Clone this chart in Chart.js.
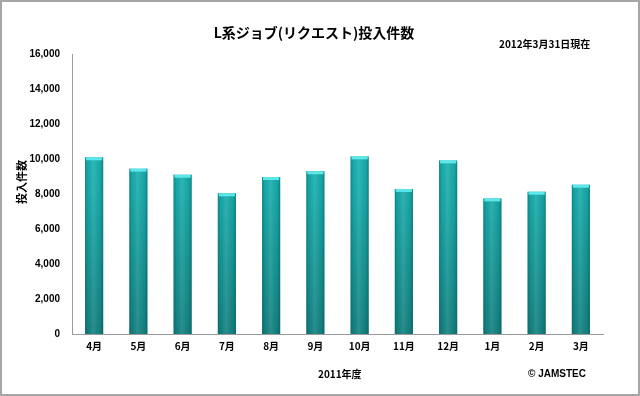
<!DOCTYPE html>
<html>
<head>
<meta charset="utf-8">
<script src="https://cdn.jsdelivr.net/npm/chart.js@4"></script>
<style>
  html, body { margin: 0; padding: 0; background: #fff; }
  #wrap { position: relative; width: 640px; height: 396px; box-sizing: border-box; border: 2px solid #a6a6a6; }
  canvas { display: block; }
</style>
</head>
<body>
<div id="wrap"><canvas id="jobChart" width="636" height="392"></canvas></div>
<script>
const months = ["4月", "5月", "6月", "7月", "8月", "9月", "10月", "11月", "12月", "1月", "2月", "3月"];
const jobCounts = [10100, 9450, 9100, 8040, 8970, 9300, 10150, 8290, 9920, 7750, 8130, 8530];
const titleText = "L系ジョブ(リクエスト)投入件数";
const dateText = "2012年3月31日現在";
const yTitle = "投入件数";
const xTitle = "2011年度";
const creditText = "© JAMSTEC";

const JP = "'Noto Sans CJK JP', 'Noto Sans', sans-serif";
const NUM = "'Liberation Sans', Arial, sans-serif";

// extra texts and bar shading
const decorate = {
    id: "decorate",
    afterDatasetsDraw(chart) {
        const ctx = chart.ctx;
        const meta = chart.getDatasetMeta(0);
        meta.data.forEach((bar) => {
            const left = bar.x - bar.width / 2;
            const right = bar.x + bar.width / 2;
            const g = ctx.createLinearGradient(left, 0, right, 0);
            g.addColorStop(0, "rgba(0,60,60,0.35)");
            g.addColorStop(0.15, "rgba(0,60,60,0.05)");
            g.addColorStop(0.45, "rgba(255,255,255,0.10)");
            g.addColorStop(0.85, "rgba(0,60,60,0.08)");
            g.addColorStop(1, "rgba(0,60,60,0.40)");
            ctx.save();
            ctx.fillStyle = g;
            ctx.fillRect(left, bar.y, bar.width, bar.base - bar.y);
            ctx.fillStyle = "#5ce8ea";
            ctx.fillRect(left + 1, bar.y, bar.width - 2, 3);
            ctx.restore();
        });
    },
    afterDraw(chart) {
        const ctx = chart.ctx;
        ctx.save();
        ctx.fillStyle = "#000";
        ctx.textBaseline = "middle";
        ctx.textAlign = "center";
        ctx.font = "bold 14px " + JP;
        ctx.fillText(titleText, 312, 31);
        ctx.font = "bold 10px " + JP;
        ctx.textAlign = "left";
        ctx.fillText(dateText, 497, 42);
        ctx.font = "bold 10px " + JP;
        ctx.fillText(xTitle, 316, 372);
        ctx.font = "bold 10px " + NUM;
        ctx.fillText(creditText, 526, 372);
        ctx.translate(20, 180);
        ctx.rotate(-Math.PI / 2);
        ctx.textAlign = "center";
        ctx.font = "bold 11px " + JP;
        ctx.fillText(yTitle, 0, 0);
        ctx.restore();
    }
};

const ctx = document.getElementById("jobChart").getContext("2d");
const chart = new Chart(ctx, {
    type: "bar",
    data: {
        labels: months,
        datasets: [
            {
                data: jobCounts,
                backgroundColor: function (c) {
                    const area = c.chart.chartArea;
                    if (!area) return "#17a8a8";
                    const g = c.chart.ctx.createLinearGradient(0, area.top, 0, area.bottom);
                    g.addColorStop(0, "#1dc0c0");
                    g.addColorStop(0.5, "#18aaaa");
                    g.addColorStop(1, "#13807f");
                    return g;
                },
                borderWidth: 0,
                barPercentage: 0.41,
                categoryPercentage: 1,
            },
        ],
    },
    options: {
        responsive: false,
        animation: false,
        layout: {
            padding: { left: 10, right: 35, top: 52, bottom: 40 },
        },
        scales: {
            y: {
                min: 0,
                max: 16000,
                ticks: {
                    stepSize: 2000,
                    color: "#000",
                    font: { family: NUM, size: 10, weight: "bold" },
                    padding: 8,
                    callback: (v) => v.toLocaleString("en-US"),
                },
                grid: { display: false, drawTicks: true, tickLength: 4, color: "#9a9a9a" },
                border: { display: true, color: "#9a9a9a" },
                afterFit: (s) => { s.width = 60; },
            },
            x: {
                offset: true,
                ticks: {
                    color: "#000",
                    font: { family: JP, size: 10, weight: "bold" },
                    padding: 2,
                },
                grid: { display: false, offset: true, drawTicks: true, tickLength: 4, color: "#9a9a9a" },
                border: { display: true, color: "#9a9a9a" },
            },
        },
        plugins: {
            legend: { display: false },
            tooltip: { enabled: false },
            title: { display: false },
        },
    },
    plugins: [decorate],
});
</script>
</body>
</html>
